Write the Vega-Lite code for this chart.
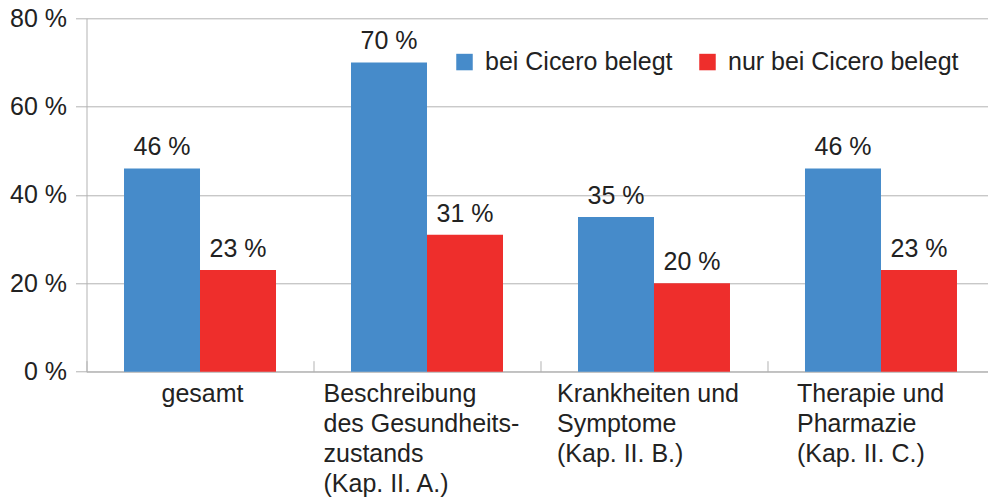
{
  "$schema": "https://vega.github.io/schema/vega-lite/v6.json",
  "width": 908,
  "height": 353.4,
  "autosize": {"type": "none"},
  "padding": {"left": 86.5, "top": 18.3, "right": 0, "bottom": 125},
  "background": "white",
  "config": {"view": {"stroke": null}, "font": "Liberation Sans"},
  "data": {
    "values": [
      {"kategorie": "gesamt", "serie": "bei Cicero belegt", "wert": 46},
      {"kategorie": "gesamt", "serie": "nur bei Cicero belegt", "wert": 23},
      {"kategorie": "Beschreibung\ndes Gesundheits-\nzustands\n(Kap. II. A.)", "serie": "bei Cicero belegt", "wert": 70},
      {"kategorie": "Beschreibung\ndes Gesundheits-\nzustands\n(Kap. II. A.)", "serie": "nur bei Cicero belegt", "wert": 31},
      {"kategorie": "Krankheiten und\nSymptome\n(Kap. II. B.)", "serie": "bei Cicero belegt", "wert": 35},
      {"kategorie": "Krankheiten und\nSymptome\n(Kap. II. B.)", "serie": "nur bei Cicero belegt", "wert": 20},
      {"kategorie": "Therapie und\nPharmazie\n(Kap. II. C.)", "serie": "bei Cicero belegt", "wert": 46},
      {"kategorie": "Therapie und\nPharmazie\n(Kap. II. C.)", "serie": "nur bei Cicero belegt", "wert": 23}
    ]
  },
  "transform": [{"calculate": "datum.wert + ' %'", "as": "beschriftung"}],
  "encoding": {
    "x": {
      "field": "kategorie",
      "type": "nominal",
      "sort": null,
      "scale": {"paddingInner": 0, "paddingOuter": 0},
      "axis": {
        "title": null,
        "labelAngle": 0,
        "labelFontSize": 25,
        "labelColor": "#222222",
        "labelLineHeight": 30,
        "labelExpr": "split(datum.label, '\\n')",
        "labelAlign": "left",
        "labelBaseline": "top",
        "labelPadding": 21,
        "labelOverlap": false,
        "labelLimit": 0,
        "labelOffset": {"expr": "-6.5 * max(length(split(datum.value,'\\n')[0]), length(split(datum.value,'\\n')[1] || ''), length(split(datum.value,'\\n')[2] || ''), length(split(datum.value,'\\n')[3] || ''))"},
        "tickBand": "extent",
        "tickSize": -11,
        "tickColor": "#b3b3b3",
        "domainColor": "#b3b3b3",
        "grid": false
      }
    },
    "xOffset": {
      "field": "serie",
      "type": "nominal",
      "sort": null,
      "scale": {"paddingInner": 0, "paddingOuter": 0.4934}
    },
    "y": {
      "field": "wert",
      "type": "quantitative",
      "scale": {"domain": [0, 80]},
      "axis": {
        "title": null,
        "values": [0, 20, 40, 60, 80],
        "labelExpr": "datum.value + ' %'",
        "labelFontSize": 25,
        "labelColor": "#222222",
        "labelPadding": 9,
        "tickSize": 11,
        "tickColor": "#b3b3b3",
        "domainColor": "#b3b3b3",
        "gridColor": "#b3b3b3",
        "grid": true
      }
    }
  },
  "layer": [
    {
      "mark": {"type": "bar"},
      "encoding": {
        "color": {
          "field": "serie",
          "type": "nominal",
          "sort": null,
          "scale": {"domain": ["bei Cicero belegt", "nur bei Cicero belegt"], "range": ["#468BCA", "#EE2E2C"]},
          "legend": {
            "title": null,
            "orient": "none",
            "legendX": 365.5,
            "legendY": 31,
            "direction": "horizontal",
            "symbolType": "square",
            "symbolSize": 272,
            "symbolStrokeWidth": 0,
            "labelFontSize": 25,
            "labelColor": "#222222",
            "labelOffset": 8,
            "labelLimit": 0,
            "columnPadding": 22,
            "padding": 0
          }
        }
      }
    },
    {
      "mark": {"type": "text", "dy": -13, "baseline": "alphabetic", "fontSize": 25, "color": "#222222"},
      "encoding": {"text": {"field": "beschriftung", "type": "nominal"}}
    }
  ]
}
